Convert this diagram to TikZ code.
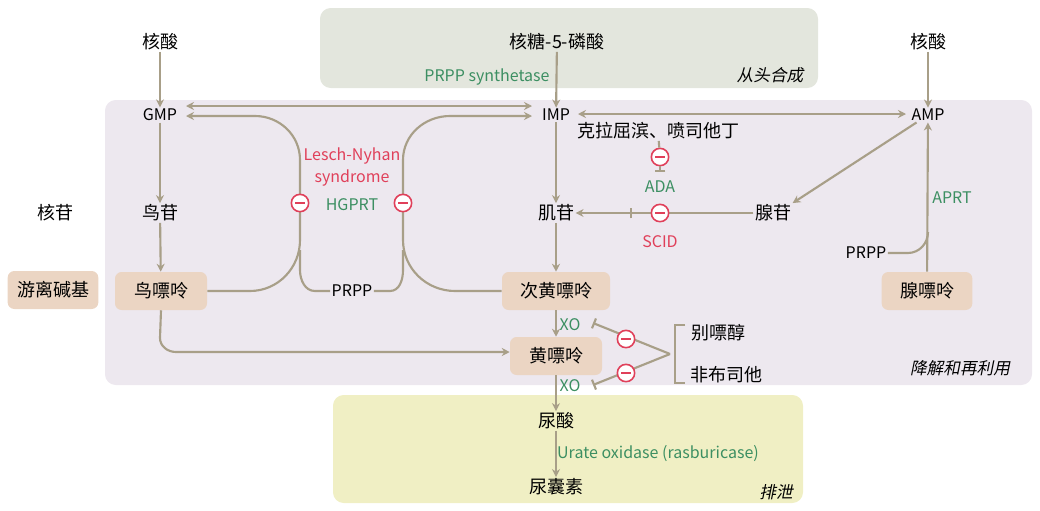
\documentclass[tikz,border=0pt]{standalone}
\usepackage{fontspec}
\setmainfont{Noto Sans CJK SC}
\newfontfamily\slfont{Noto Sans CJK SC}[FakeSlant=0.2]
\usetikzlibrary{arrows.meta}
\definecolor{arr}{HTML}{A89F88}
\definecolor{lav}{HTML}{EDE8EF}
\definecolor{topg}{HTML}{E3E6DD}
\definecolor{yel}{HTML}{F0EFC4}
\definecolor{beige}{HTML}{EBD5C3}
\definecolor{rd}{HTML}{E0405A}
\definecolor{gr}{HTML}{3C8F62}
\begin{document}
\begin{tikzpicture}[x=0.75pt,y=-0.75pt,
 t/.style={font=\fontsize{13.5}{15}\selectfont, inner sep=1pt},
 lt/.style={font=\fontsize{12}{14}\selectfont, inner sep=1pt},
 g/.style={font=\fontsize{12}{13}\selectfont, text=gr, inner sep=1pt},
 r/.style={font=\fontsize{12}{13}\selectfont, text=rd, inner sep=1pt},
 sl/.style={font=\fontsize{12.5}{14}\slfont, inner sep=1pt},
 box/.style={fill=beige, rounded corners=5pt, minimum height=28.5pt, font=\fontsize{13.5}{15}\selectfont},
 tip/.tip={Stealth[length=6pt,width=6pt]},
 a/.style={draw=arr, line width=1.6pt, -tip},
 ln/.style={draw=arr, line width=1.6pt},
 inh/.style={draw=arr, line width=1.6pt, -{Bar[width=8pt]}},
 mc/.style={circle, draw=rd, fill=white, line width=1.2pt, minimum size=13pt, inner sep=0pt,
   path picture={\draw[rd, line width=1.5pt] ([xshift=-3.5pt]path picture bounding box.center) -- ([xshift=3.5pt]path picture bounding box.center);}}]
\useasboundingbox (0,0) rectangle (1040,511);
\fill[topg, rounded corners=8pt] (320,8) rectangle (818,88);
\fill[lav, rounded corners=8pt] (105,100) rectangle (1032,385);
\fill[yel, rounded corners=8pt] (333,395) rectangle (803,503);
% nodes
\node[t] (na1) at (160,42) {核酸};
\node[t] (r5p) at (557,42) {核糖-5-磷酸};
\node[g] (prs) at (487,77) {PRPP synthetase};
\node[sl] (dn) at (770,75) {从头合成};
\node[t] (na2) at (928,42) {核酸};
\node[lt] (gmp) at (160,115) {GMP};
\node[lt] (imp) at (556,115) {IMP};
\node[lt] (amp) at (928,115) {AMP};
\node[t] (drug) at (658,131) {克拉屈滨、喷司他丁};
\node[mc] (m1) at (660,157) {};
\node[g] (ada) at (660,187) {ADA};
\node[t] (ns) at (55,213) {核苷};
\node[t] (gs) at (160,213) {鸟苷};
\node[t] (is) at (556,213) {肌苷};
\node[t] (as) at (773,213) {腺苷};
\node[r] (scid) at (660,242) {SCID};
\node[r] (ln1) at (352,156) {Lesch-Nyhan};
\node[r] (ln2) at (352,178) {syndrome};
\node[g] (hg) at (352,205) {HGPRT};
\node[g] (aprt) at (952,198) {APRT};
\node[lt] (prpp2) at (866,253) {PRPP};
\node[lt] (prpp1) at (352,291) {PRPP};
\node[box, minimum width=68pt] (fb) at (53,290) {游离碱基};
\node[box, minimum width=69pt] (gua) at (161,291) {鸟嘌呤};
\node[box, minimum width=81pt] (hyp) at (556,291) {次黄嘌呤};
\node[box, minimum width=68pt] (ade) at (927,291) {腺嘌呤};
\node[box, minimum width=69pt] (xan) at (556,356) {黄嘌呤};
\node[g] (xo1) at (570,325) {XO};
\node[g] (xo2) at (570,386) {XO};
\node[t] (allo) at (718,333) {别嘌醇};
\node[t] (febu) at (726,375) {非布司他};
\node[sl] (deg) at (960,368) {降解和再利用};
\node[t] (ua) at (556,421) {尿酸};
\node[g] (uo) at (658,454) {Urate oxidase (rasburicase)};
\node[t] (aln) at (556,487) {尿囊素};
\node[sl] (ex) at (776,492) {排泄};
\coordinate (gt) at (186,106);
\coordinate (it) at (532,106);
\coordinate (gl) at (186,116);
\coordinate (il) at (532,116);
\coordinate (ir) at (578,114);
\coordinate (al) at (906,114);
\coordinate (j1) at (300,250);
\coordinate (j2) at (403,250);
\coordinate (j3) at (928,232);
\coordinate (br) at (670,354);
\coordinate (t1) at (593,323);
\coordinate (t2) at (593,385);
% arrows
\draw[a] (na1) -- (gmp);
\draw[a] (r5p) -- (imp);
\draw[a] (na2) -- (amp);
\draw[a, tip-tip] (gt) -- (it);
\draw[a, tip-tip] (ir) -- (al);
\draw[a] (gmp) -- (gs);
\draw[a] (gs) -- (gua);
\draw[a] (imp) -- (is);
\draw[a] (is) -- (hyp);
\draw[a] (as) -- (is);
\draw[a] (amp) -- (as.north east);
\draw[a] (ade) -- (amp);
\draw[ln] (prpp2.east) -- (908,253) to[out=0,in=-90] (j3);
% HGPRT curves
\draw[a] (gua.east) -- (250,291) to[out=0,in=-90] (300,240) -- (300,160) to[out=90,in=0] (255,116) -- (gl);
\draw[ln] (prpp1.west) -- (315,291) to[out=180,in=-90] (300,270) -- (j1);
\draw[a] (hyp.west) -- (455,291) to[out=180,in=-90] (403,240) -- (403,160) to[out=90,in=180] (450,116) -- (il);
\draw[ln] (prpp1.east) -- (390,291) to[out=0,in=-90] (403,270) -- (j2);
\node[mc] (m3) at (300,203) {};
\node[mc] (m4) at (403,203) {};
% inhibitions
\draw[ln] (drug) -- (m1);
\draw[inh] (m1) -- (660,172);
\draw[inh] (as) -- (630,213);
\node[mc] (m2) at (660,213) {};
% xanthine
\draw[a] (gua.south) -- (160,338) to[out=-90,in=180] (176,352) -- (xan.west |- 0,352);
\draw[a] (hyp) -- (xan);
\draw[a] (xan) -- (ua);
\draw[a] (ua) -- (aln);
% bracket
\draw[ln] (685,325) -- (675,325) -- (675,383) -- (685,383);
\draw[inh] (br) -- (t1);
\draw[inh] (br) -- (t2);
\node[mc] (m5) at (626,339) {};
\node[mc] (m6) at (626,373) {};
\end{tikzpicture}
\end{document}
